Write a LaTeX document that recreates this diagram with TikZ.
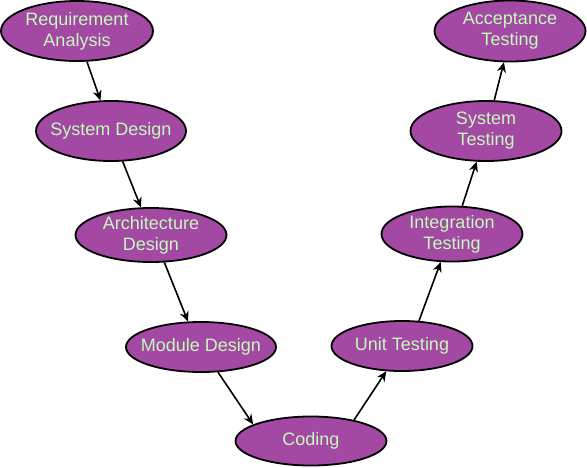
\documentclass[tikz,border=0pt]{standalone}
\usepackage{fontspec}
\setmainfont{Liberation Sans}
\usepackage{xcolor}
\usetikzlibrary{shapes.geometric, arrows.meta, positioning}
\definecolor{phaseFill}{RGB}{163,73,164}
\definecolor{phaseText}{RGB}{196,250,186}
\tikzset{
    phase/.style={ellipse, draw=black, line width=1.8pt, fill=phaseFill, text=phaseText, align=center, inner xsep=-10pt, inner ysep=-5pt, minimum width=150pt, minimum height=60pt, font=\fontsize{18}{21}\selectfont},
    arrow/.style={-{Stealth[length=10pt, width=9pt]}, line width=1.6pt}
}

\begin{document}
\begin{tikzpicture}[x=1pt, y=-1pt]
    \useasboundingbox (0,0) rectangle (587,467);

    % left branch
    \node[phase, minimum width=152pt] (reqA) at (77,31) {Requirement\\Analysis};
    \node[phase] (sysD) at (111,131) {System Design};
    \node[phase, minimum width=151pt, minimum height=54pt] (archD) at (151,235) {Architecture\\Design};
    \node[phase, minimum height=50pt] (modD) at (201,347) {Module Design};
    \node[phase, minimum width=151pt, minimum height=49pt] (coding) at (311,441) {Coding};

    % right branch
    \node[phase, minimum width=141pt, minimum height=50pt] (unitT) at (402,346) {Unit Testing};
    \node[phase, minimum width=141pt, minimum height=55pt] (intT) at (452,234) {Integration\\Testing};
    \node[phase, minimum width=151pt] (sysT) at (486,131) {System\\Testing};
    \node[phase, minimum width=151pt, minimum height=61pt] (accT) at (510,31) {Acceptance\\Testing};

    \draw[arrow] (reqA.-72) -- (sysD.109);
    \draw[arrow] (sysD.-69) -- (archD.110);
    \draw[arrow] (archD.-64) -- (modD.117);
    \draw[arrow] (modD.-56) -- (coding.164);
    \draw[arrow] (coding.26) -- (unitT.-122);
    \draw[arrow] (unitT.56) -- (intT.-112);
    \draw[arrow] (intT.70) -- (sysT.-107);
    \draw[arrow] (sysT.75) -- (accT.-101);
\end{tikzpicture}
\end{document}
